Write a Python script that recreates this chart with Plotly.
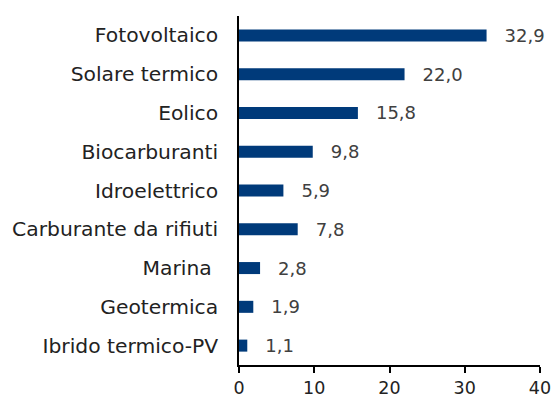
import plotly.graph_objects as go

categories = ["Fotovoltaico", "Solare termico", "Eolico", "Biocarburanti", "Idroelettrico",
              "Carburante da rifiuti", "Marina ", "Geotermica", "Ibrido termico-PV"]
values = [32.9, 22.0, 15.8, 9.8, 5.9, 7.8, 2.8, 1.9, 1.1]
x_ticks = [0, 10, 20, 30, 40]

FONT = "Century Gothic, DejaVu Sans, sans-serif"

fig = go.Figure(go.Bar(
    y=categories, x=values, orientation="h",
    marker=dict(color="#003A7A", line=dict(width=0)),
    width=0.31,
    text=["  \u2009" + f"{v:.1f}".replace(".", ",") for v in values],
    textposition="outside",
    constraintext="none",
    textfont=dict(family=FONT, size=18, color="#404040"),
    cliponaxis=False,
    hoverinfo="skip",
))

fig.update_layout(
    width=555, height=402,
    margin=dict(l=239, r=15, t=16, b=37, autoexpand=False),
    paper_bgcolor="white", plot_bgcolor="white",
    showlegend=False,
    font=dict(family=FONT, size=18, color="#222222"),
    xaxis=dict(range=[0, 40], tickvals=x_ticks, showgrid=False, zeroline=False,
               showline=True, linecolor="#000000", linewidth=1.5,
               ticks="outside", ticklen=6, tickcolor="#000000", tickwidth=1.5,
               automargin=False,
               tickfont=dict(family=FONT, size=17.5, color="#222222")),
    yaxis=dict(autorange="reversed", showgrid=False, zeroline=False,
               showline=True, linecolor="#000000", linewidth=1.5,
               ticks="", ticklabelstandoff=15, automargin=False,
               tickfont=dict(family=FONT, size=20.3, color="#222222")),
)

fig.write_html("out.html", config={"displayModeBar": False},
               post_script="document.body.style.margin='0';document.body.style.overflow='hidden';")
